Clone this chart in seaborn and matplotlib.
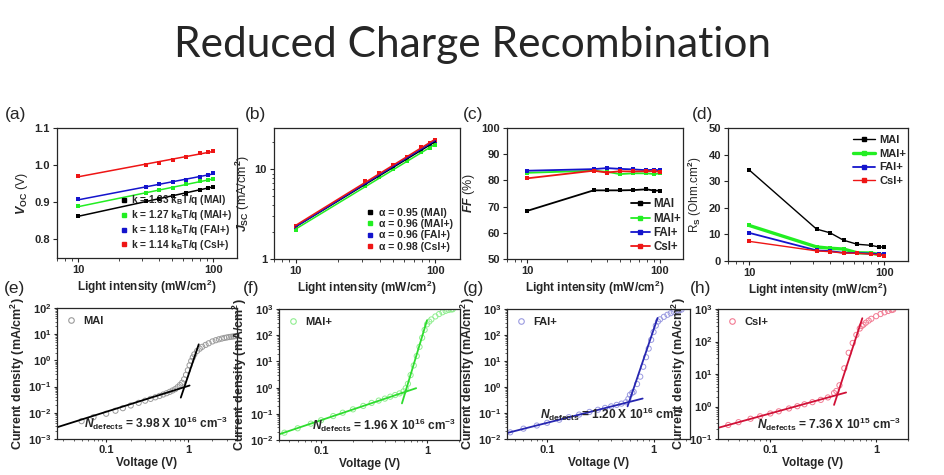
import numpy as np
import pandas as pd
import matplotlib
matplotlib.use("Agg")
import matplotlib.pyplot as plt
from matplotlib.lines import Line2D
from matplotlib.ticker import FixedLocator, FixedFormatter, LogLocator, NullFormatter, MultipleLocator, FormatStrFormatter
import seaborn as sns

sns.set_style("ticks")
plt.rcParams['font.family'] = ['Liberation Sans', 'DejaVu Sans']
plt.rcParams['font.weight'] = 'bold'
plt.rcParams['mathtext.fontset'] = 'custom'
plt.rcParams['mathtext.rm'] = 'Liberation Sans:bold'
plt.rcParams['mathtext.it'] = 'Liberation Sans:italic:bold'
plt.rcParams['mathtext.bf'] = 'Liberation Sans:bold'
plt.rcParams['axes.linewidth'] = 0.9
plt.rcParams['xtick.direction'] = 'out'
plt.rcParams['ytick.direction'] = 'out'

# ---------------- data: top row ----------------
samples = ["MAI", "MAI+", "FAI+", "CsI+"]
top_colors = ["#000000", "#22ee22", "#1414cc", "#ee1515"]
intensity = [10, 31.6, 39.8, 50.1, 63.1, 79.4, 91.2, 100]

voc_MAI = [0.862, 0.904, 0.909, 0.916, 0.924, 0.934, 0.939, 0.942]
voc_MAIp = [0.889, 0.925, 0.932, 0.939, 0.948, 0.956, 0.960, 0.964]
voc_FAIp = [0.908, 0.940, 0.948, 0.954, 0.961, 0.969, 0.974, 0.979]
voc_CsIp = [0.971, 1.001, 1.007, 1.014, 1.022, 1.032, 1.036, 1.038]
k_values = [1.33, 1.27, 1.18, 1.14]

jsc_MAI = [2.24, 6.9, 8.7, 10.8, 13.3, 16.5, 18.5, 19.8]
jsc_MAIp = [2.10, 6.6, 8.2, 10.1, 12.4, 15.5, 17.3, 18.6]
jsc_FAIp = [2.25, 7.1, 8.9, 11.0, 13.6, 17.0, 19.2, 20.6]
jsc_CsIp = [2.33, 7.4, 9.1, 11.2, 13.8, 17.9, 19.6, 21.5]
alpha_values = [0.95, 0.96, 0.96, 0.98]

ff_MAI = [68.4, 76.2, 76.2, 76.2, 76.3, 76.6, 76.1, 76.1]
ff_MAIp = [82.9, 83.7, 83.3, 82.4, 82.7, 82.7, 82.4, 82.7]
ff_FAIp = [83.7, 84.3, 84.7, 84.4, 84.2, 83.9, 84.1, 83.8]
ff_CsIp = [80.8, 83.7, 83.0, 83.5, 83.4, 83.5, 83.5, 83.3]

rs_MAI = [34.3, 12.0, 10.6, 7.8, 6.3, 5.9, 5.3, 5.2]
rs_MAIp = [13.4, 5.3, 4.8, 4.5, 3.1, 3.0, 2.5, 2.4]
rs_FAIp = [10.6, 4.0, 3.7, 3.1, 3.0, 2.8, 2.6, 2.5]
rs_CsIp = [7.4, 3.8, 3.5, 3.0, 2.9, 2.6, 2.3, 2.0]

voc_all = [voc_MAI, voc_MAIp, voc_FAIp, voc_CsIp]
jsc_all = [jsc_MAI, jsc_MAIp, jsc_FAIp, jsc_CsIp]
ff_all = [ff_MAI, ff_MAIp, ff_FAIp, ff_CsIp]
rs_all = [rs_MAI, rs_MAIp, rs_FAIp, rs_CsIp]

# ---------------- data: bottom row (SCLC) ----------------
V_e = [0.05, 0.07, 0.1, 0.13, 0.16, 0.2, 0.25, 0.3, 0.35, 0.4, 0.45, 0.5, 0.55, 0.6, 0.65,
       0.7, 0.75, 0.8, 0.85, 0.9, 0.95, 1.0, 1.05, 1.1, 1.15, 1.2, 1.3, 1.4, 1.5, 1.65, 1.8,
       2.0, 2.2, 2.4, 2.6, 2.8, 3.0, 3.2, 3.4, 3.6, 3.8]
J_e = [0.0048, 0.0068, 0.0092, 0.012, 0.015, 0.019, 0.024, 0.029, 0.034, 0.039, 0.044, 0.05,
       0.056, 0.063, 0.071, 0.08, 0.095, 0.115, 0.14, 0.19, 0.28, 0.42, 0.65, 0.95, 1.3, 1.7,
       2.3, 2.8, 3.3, 3.9, 4.5, 5.3, 5.9, 6.4, 6.8, 7.2, 7.5, 7.8, 8.0, 8.2, 8.4]
ohm_V_e = [0.025, 1.05]
ohm_J_e = [0.0028, 0.11]
tfl_V_e = [0.82, 1.36]
tfl_J_e = [0.038, 4.1]

V_f = [0.045, 0.06, 0.08, 0.1, 0.13, 0.16, 0.2, 0.25, 0.3, 0.35, 0.4, 0.45, 0.5, 0.55, 0.6,
       0.63, 0.66, 0.7, 0.75, 0.8, 0.85, 0.9, 0.95, 1.0, 1.05, 1.1, 1.2, 1.3, 1.4, 1.5, 1.6,
       1.7, 1.75]
J_f = [0.019, 0.028, 0.042, 0.057, 0.082, 0.11, 0.148, 0.2, 0.26, 0.32, 0.38, 0.45, 0.52, 0.6,
       0.72, 0.95, 1.4, 3.0, 7.0, 16, 36, 80, 160, 260, 330, 400, 520, 640, 750, 850, 920,
       960, 980]
ohm_V_f = [0.041, 0.79]
ohm_J_f = [0.017, 0.95]
tfl_V_f = [0.58, 1.0]
tfl_J_f = [0.25, 370]

V_g = [0.045, 0.06, 0.08, 0.1, 0.13, 0.16, 0.2, 0.25, 0.3, 0.35, 0.4, 0.45, 0.5, 0.55, 0.58,
       0.6, 0.63, 0.65, 0.7, 0.75, 0.8, 0.85, 0.9, 0.95, 1.0, 1.05, 1.1, 1.15, 1.25, 1.35,
       1.45, 1.55, 1.65, 1.75, 1.83]
J_g = [0.018, 0.025, 0.033, 0.042, 0.055, 0.069, 0.087, 0.11, 0.133, 0.157, 0.18, 0.205, 0.23,
       0.26, 0.35, 0.5, 0.6, 0.65, 1.3, 2.5, 6.0, 14, 30, 65, 130, 230, 330, 400, 500, 600,
       690, 770, 840, 900, 950]
ohm_V_g = [0.042, 0.79]
ohm_J_g = [0.017, 0.36]
tfl_V_g = [0.57, 1.09]
tfl_J_g = [0.18, 450]

V_h = [0.04, 0.05, 0.065, 0.08, 0.1, 0.12, 0.15, 0.18, 0.21, 0.25, 0.3, 0.35, 0.4, 0.42, 0.45,
       0.5, 0.55, 0.6, 0.65, 0.7, 0.73, 0.76, 0.8, 0.85, 0.9, 1.0, 1.1, 1.2, 1.3, 1.4, 1.45]
J_h = [0.27, 0.33, 0.42, 0.5, 0.61, 0.71, 0.87, 1.02, 1.17, 1.36, 1.6, 1.9, 2.6, 3.0, 4.5,
       15, 45, 90, 160, 250, 300, 330, 380, 440, 500, 600, 700, 790, 870, 930, 960]
ohm_V_h = [0.032, 0.52]
ohm_J_h = [0.22, 2.7]
tfl_V_h = [0.40, 0.74]
tfl_J_h = [1.12, 520]

# ---------------- figure ----------------
fig = plt.figure(figsize=(9.45, 4.75), dpi=100)
W, H = 945.0, 475.0


def add_ax(l, r, t, b):
    return fig.add_axes([l / W, 1 - b / H, (r - l) / W, (b - t) / H])


ax_a = add_ax(57, 237, 128, 258)
ax_b = add_ax(274, 460, 128, 259)
ax_c = add_ax(507, 683, 128, 259)
ax_d = add_ax(728, 908, 128, 261)
ax_e = add_ax(57, 237, 308, 439)
ax_f = add_ax(279, 460, 309, 440)
ax_g = add_ax(507, 690, 309, 439)
ax_h = add_ax(718, 908, 309, 439)

TICK_FS = 8
LAB_FS = 8.5


def style_light_axis(ax):
    ax.set_xscale('log')
    ax.set_xlim(7, 150)
    ax.xaxis.set_major_locator(FixedLocator([10, 100]))
    ax.xaxis.set_major_formatter(FixedFormatter(["10", "100"]))
    ax.xaxis.set_minor_locator(LogLocator(base=10, subs=np.arange(2, 10)))
    ax.xaxis.set_minor_formatter(NullFormatter())
    ax.set_xlabel(r"Light intensity (mW/cm$^2$)", fontsize=LAB_FS, fontweight='bold', labelpad=2)
    ax.tick_params(labelsize=TICK_FS, length=3, width=0.8, pad=2)
    ax.tick_params(which='minor', length=1.8, width=0.6)
    for s in ax.spines.values():
        s.set_visible(True)


logI = np.log10(intensity)
xfit = np.array([10.0, 100.0])

# (a) Voc
for vals, col, k, name in zip(voc_all, top_colors, k_values, samples):
    sns.scatterplot(x=intensity, y=vals, ax=ax_a, color=col, marker='s', s=9, linewidth=0, legend=False)
    p = np.polyfit(logI, vals, 1)
    sns.lineplot(x=xfit, y=np.polyval(p, np.log10(xfit)), ax=ax_a, color=col, linewidth=1.1, legend=False)
style_light_axis(ax_a)
ax_a.set_ylim(0.75, 1.1)
ax_a.yaxis.set_major_locator(MultipleLocator(0.1))
ax_a.yaxis.set_major_formatter(FormatStrFormatter('%.1f'))
ax_a.set_ylabel(r"$V_{\mathrm{OC}}$ (V)", fontsize=LAB_FS + 0.5, labelpad=3)
hd = [Line2D([], [], color=c, marker='s', markersize=2.6, linestyle='none') for c in top_colors]
ax_a.legend(hd, [r"k = %.2f k$_\mathrm{B}$T/q (%s)" % (k, n) for k, n in zip(k_values, samples)],
            loc='lower right', frameon=False, fontsize=7.3, handletextpad=0.3, labelspacing=0.08,
            borderaxespad=0.2, handlelength=0.9, bbox_to_anchor=(1.01, 0.0))

# (b) Jsc
for vals, col in zip(jsc_all, top_colors):
    sns.scatterplot(x=intensity, y=vals, ax=ax_b, color=col, marker='s', s=9, linewidth=0, legend=False)
    p = np.polyfit(logI, np.log10(vals), 1)
    sns.lineplot(x=xfit, y=10 ** np.polyval(p, np.log10(xfit)), ax=ax_b, color=col, linewidth=1.1, legend=False)
style_light_axis(ax_b)
ax_b.set_yscale('log')
ax_b.set_ylim(1, 29)
ax_b.yaxis.set_major_locator(FixedLocator([1, 10]))
ax_b.yaxis.set_major_formatter(FixedFormatter(["1", "10"]))
ax_b.yaxis.set_minor_locator(LogLocator(base=10, subs=np.arange(2, 10)))
ax_b.yaxis.set_minor_formatter(NullFormatter())
ax_b.set_ylabel(r"$J_{\mathrm{SC}}$ (mA/cm$^2$)", fontsize=LAB_FS + 0.5, labelpad=2)
ax_b.legend(hd, [u"\u03b1 = %.2f (%s)" % (a, n) for a, n in zip(alpha_values, samples)],
            loc='lower right', frameon=False, fontsize=7.6, handletextpad=0.4, labelspacing=0.12,
            borderaxespad=0.3, handlelength=0.9)

# (c) FF
for vals, col in zip(ff_all, top_colors):
    sns.lineplot(x=intensity, y=vals, ax=ax_c, color=col, marker='s', markersize=3.5,
                 markeredgewidth=0, linewidth=1.3, legend=False)
style_light_axis(ax_c)
ax_c.set_ylim(50, 100)
ax_c.yaxis.set_major_locator(MultipleLocator(10))
ax_c.set_ylabel(r"$FF$ (%)", fontsize=LAB_FS + 0.5, labelpad=3)
hl = [Line2D([], [], color=c, marker='s', markersize=3, linewidth=1.3) for c in top_colors]
ax_c.legend(hl, samples, loc='lower right', frameon=False, fontsize=8.3, handletextpad=0.3,
            labelspacing=0.2, borderaxespad=0.1, handlelength=1.6, bbox_to_anchor=(1.02, 0.0))

# (d) Rs
widths_d = [1.0, 2.4, 1.3, 1.0]
for vals, col, lw in zip(rs_all, top_colors, widths_d):
    sns.lineplot(x=intensity, y=vals, ax=ax_d, color=col, marker='s', markersize=3.5,
                 markeredgewidth=0, linewidth=lw, legend=False)
style_light_axis(ax_d)
ax_d.set_ylim(0, 50)
ax_d.yaxis.set_major_locator(MultipleLocator(10))
ax_d.set_ylabel(r"R$_\mathrm{S}$ (Ohm.cm$^2$)", fontsize=LAB_FS, labelpad=3)
hl2 = [Line2D([], [], color=c, marker='s', markersize=3, linewidth=lw) for c, lw in zip(top_colors, widths_d)]
ax_d.legend(hl2, samples, loc='upper right', frameon=False, fontsize=8, handletextpad=0.4,
            labelspacing=0.35, borderaxespad=0.2, handlelength=2.0, bbox_to_anchor=(1.03, 1.0))

# bottom row
bottom = [
    (ax_e, V_e, J_e, ohm_V_e, ohm_J_e, tfl_V_e, tfl_J_e, "#9a9a9a", "#000000", "MAI",
     (0.025, 4.0), (1e-3, 1e2), r"$N_{\mathrm{defects}}$ = 3.98 X 10$^{16}$ cm$^{-3}$", (0.95, 0.12)),
    (ax_f, V_f, J_f, ohm_V_f, ohm_J_f, tfl_V_f, tfl_J_f, "#8fee8f", "#2edc2e", "MAI+",
     (0.04, 2.05), (1e-2, 1e3), r"$N_{\mathrm{defects}}$ = 1.96 X 10$^{16}$ cm$^{-3}$", (0.98, 0.11)),
    (ax_g, V_g, J_g, ohm_V_g, ohm_J_g, tfl_V_g, tfl_J_g, "#9a9ae0", "#2626b0", "FAI+",
     (0.042, 2.2), (1e-2, 1e3), r"$N_{\mathrm{defects}}$ = 1.20 X 10$^{16}$ cm$^{-3}$", (0.965, 0.19)),
    (ax_h, V_h, J_h, ohm_V_h, ohm_J_h, tfl_V_h, tfl_J_h, "#f27a92", "#d01036", "CsI+",
     (0.032, 2.0), (1e-1, 1e3), r"$N_{\mathrm{defects}}$ = 7.36 X 10$^{15}$ cm$^{-3}$", (0.96, 0.11)),
]

for (ax, V, J, ov, oj, tv, tj, ccol, lcol, name, xl, yl, ntxt, npos) in bottom:
    ax.set_xscale('log')
    ax.set_yscale('log')
    sns.scatterplot(x=V, y=J, ax=ax, marker='o', s=14, facecolors='none', edgecolor=ccol,
                    linewidth=0.7, legend=False)
    sns.lineplot(x=ov, y=oj, ax=ax, color=lcol, linewidth=1.3, legend=False)
    sns.lineplot(x=tv, y=tj, ax=ax, color=lcol, linewidth=1.3, legend=False)
    ax.set_xlim(*xl)
    ax.set_ylim(*yl)
    ax.xaxis.set_major_locator(FixedLocator([0.1, 1]))
    ax.xaxis.set_major_formatter(FixedFormatter(["0.1", "1"]))
    ax.xaxis.set_minor_locator(LogLocator(base=10, subs=np.arange(2, 10)))
    ax.xaxis.set_minor_formatter(NullFormatter())
    ax.yaxis.set_major_locator(LogLocator(base=10, numticks=10))
    ax.yaxis.set_minor_locator(LogLocator(base=10, subs=np.arange(2, 10), numticks=20))
    ax.yaxis.set_minor_formatter(NullFormatter())
    ax.tick_params(labelsize=TICK_FS, length=2.5, width=0.8, pad=1.5)
    ax.tick_params(which='minor', length=1.5, width=0.5)
    ax.set_xlabel("Voltage (V)", fontsize=LAB_FS, fontweight='bold', labelpad=2)
    ax.set_ylabel(r"Current density (mA/cm$^2$)", fontsize=LAB_FS + 0.5, fontweight='bold', labelpad=1)
    h = Line2D([], [], color=ccol, marker='o', markerfacecolor='none', markersize=4,
               markeredgewidth=0.8, linestyle='none')
    ax.legend([h], [name], loc='upper left', frameon=False, fontsize=8, handletextpad=0.5,
              borderaxespad=0.3, handlelength=1.2)
    ax.text(npos[0], npos[1], ntxt, transform=ax.transAxes, ha='right', va='center',
            fontsize=8.6, fontweight='bold')

# panel labels
for lab, x, y in [("(a)", 5, 114), ("(b)", 245, 114), ("(c)", 463, 114), ("(d)", 692, 114),
                  ("(e)", 4, 289), ("(f)", 243, 289), ("(g)", 463, 289), ("(h)", 690, 289)]:
    fig.text(x / W, 1 - y / H, lab, fontsize=12.5, fontweight='normal', ha='left', va='center')

fig.text(0.5, 1 - 45 / H, "Reduced Charge Recombination", ha='center', va='center',
         fontsize=30.5, fontweight='normal', family=['Lato', 'DejaVu Sans'])

fig.savefig("out.png", dpi=100)
